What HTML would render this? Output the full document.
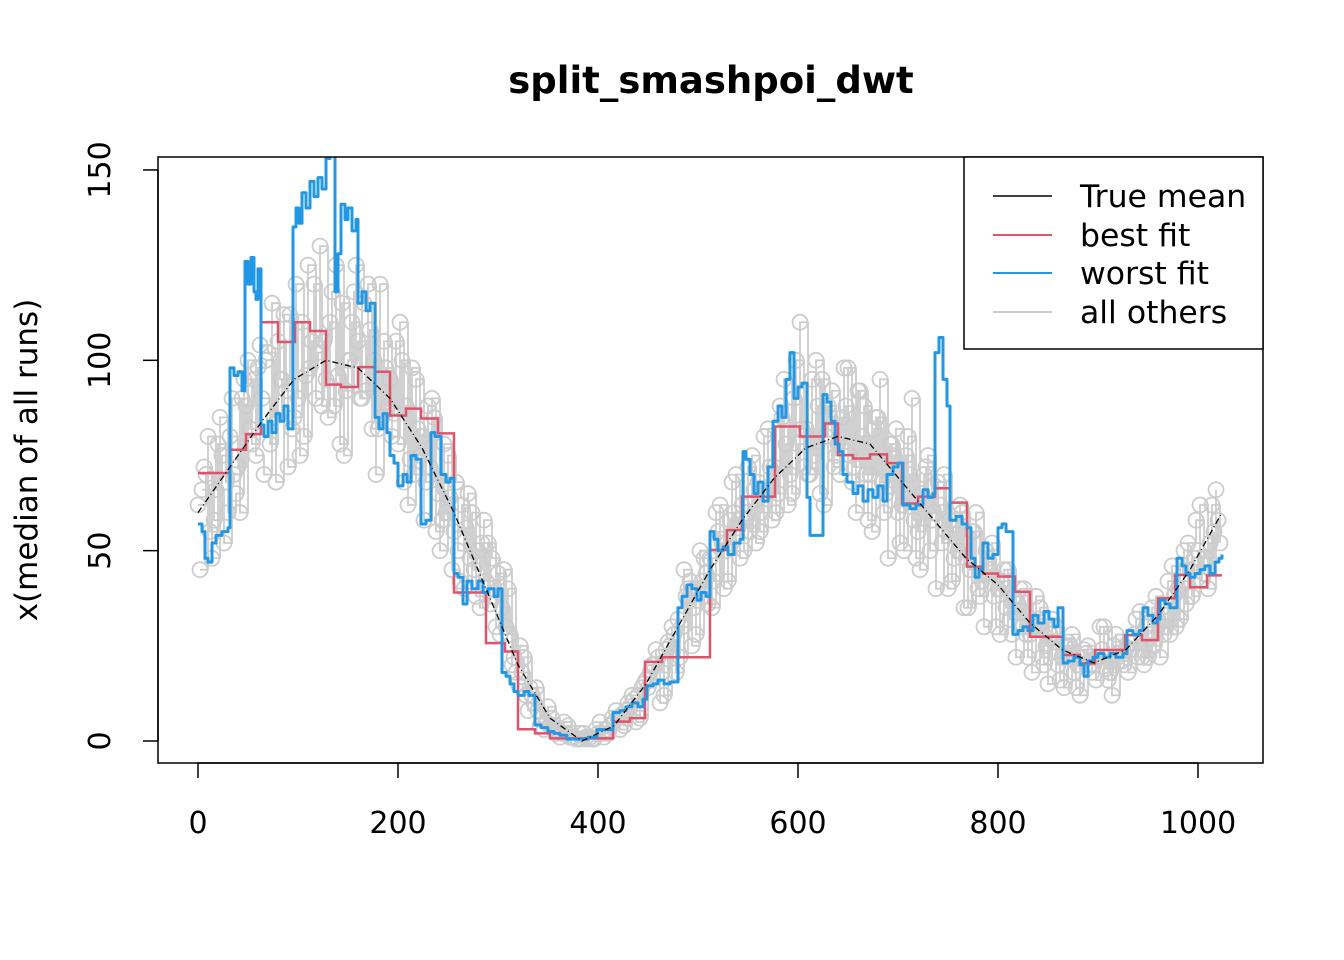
<!DOCTYPE html>
<html><head><meta charset="utf-8">
<style>
html,body{margin:0;padding:0;background:#fff;}
svg{display:block;font-family:"Liberation Sans","DejaVu Sans",sans-serif;}
</style></head>
<body>
<svg id="chart" width="1344" height="960" viewBox="0 0 1344 960" xmlns="http://www.w3.org/2000/svg">
<defs><clipPath id="plotclip"><rect x="158" y="157" width="1105" height="606"/></clipPath></defs>
<rect width="1344" height="960" fill="#fff"/>
<text x="711" y="93" text-anchor="middle" font-size="37" font-weight="bold" font-family="DejaVu Sans, sans-serif">split_smashpoi_dwt</text>
<g id="grey" clip-path="url(#plotclip)"></g>
<g id="marks" clip-path="url(#plotclip)"></g>
<rect x="158" y="157" width="1105" height="606" fill="none" stroke="#000" stroke-width="1.5"/>
<g id="axes"></g>
<text transform="translate(37,460) rotate(-90)" text-anchor="middle" font-size="31" font-family="DejaVu Sans, sans-serif">x(median of all runs)</text>
<g>
<rect x="964" y="157" width="299" height="192" fill="#fff" stroke="#000" stroke-width="1.5"/>
<line x1="993" y1="196" x2="1052" y2="196" stroke="#000" stroke-width="1.5"/>
<text x="1080" y="207" font-size="31.5" font-family="DejaVu Sans, sans-serif">True mean</text>
<line x1="993" y1="235" x2="1052" y2="235" stroke="#DF536B" stroke-width="2"/>
<text x="1080" y="246" font-size="31.5" font-family="DejaVu Sans, sans-serif">best fit</text>
<line x1="993" y1="273" x2="1052" y2="273" stroke="#2297E6" stroke-width="2"/>
<text x="1080" y="284" font-size="31.5" font-family="DejaVu Sans, sans-serif">worst fit</text>
<line x1="993" y1="312" x2="1052" y2="312" stroke="#cccccc" stroke-width="2"/>
<text x="1080" y="323" font-size="31.5" font-family="DejaVu Sans, sans-serif">all others</text>
</g>
</svg>
<script>
const xTicks = [0,200,400,600,800,1000];
const yTicks = [0,50,100,150];
const meanX = [0,32,64,96,128,160,192,224,256,288,320,352,384,416,448,480,512,544,576,608,640,672,704,736,768,800,832,864,896,928,960,992,1024];
const meanY = [60,72,84,95,100,98,90,77,60,40,20,6,0,4,15,30,45,58,69,77,80,78,68,58,48,41,31,24,20.5,24,33,45,60];
const redX = [0,32,48,63,80,97,112,128,143,160,177,192,208,223,240,256,288,307,320,337,352,415,432,447,464,512,529,544,577,602,627,640,655,672,689,704,720,737,752,769,785,800,817,832,865,882,897,927,944,960,977,992,1009,1024];
const redY = [70.4,76.5,80.6,110,104.8,110,107.7,93.6,93,98.2,97,85.5,87.3,84.7,80.8,39,25.7,23.5,3.1,2.0,0.7,5.1,6,20.8,22,50.2,55.4,64.2,82.6,80,83.4,75.1,74.2,75.3,73,62.4,64.2,66.4,62.6,45.8,44,43.2,39.2,27.4,22.6,20.4,23.9,27.8,26.5,37.5,43.6,40.4,43.5];
const blueX = [0,4,7,10,14,18,24,30,32,36,40,44,47,50,53,56,58,60,63,66,70,74,78,82,86,90,95,98,101,104,108,112,116,120,124,128,132,137,140,143,147,150,154,158,160,164,168,172,177,181,185,189,192,196,200,205,209,213,218,223,228,233,237,243,248,252,256,260,265,269,274,280,285,290,296,300,304,308,312,316,320,326,331,337,343,350,356,362,369,380,390,399,406,415,422,428,434,440,445,449,455,460,466,472,480,484,489,494,499,503,508,512,516,520,525,530,536,542,545,548,552,556,560,565,570,575,580,584,588,592,596,600,604,609,612,618,625,629,633,637,641,645,649,655,660,665,670,675,680,685,689,695,700,705,712,718,725,730,735,737,741,745,749,752,758,764,769,773,777,781,785,790,795,800,804,808,815,820,825,830,835,840,846,851,856,860,865,870,876,882,886,890,895,900,906,912,918,925,929,935,941,945,950,955,959,962,967,972,979,984,988,992,997,1002,1007,1012,1017,1021,1024];
const blueY = [57,55,48,47,52,54,55,56,98,96,97,92,126,120,127,118,116,124,83,80,84,81,86,84,88,82,135,140,136,144,140,147,143,148,145,153,156,118,128,141,137,140,134,137,115,118,113,115,85,82,86,81,75,73,67,70,68,75,74,57,58,81,80,70,68,69,44,43,36,42,40,42,39,40,38,40,18,17,15,13,12,13,12,4.2,3.5,2.5,2,1.5,0.5,0.5,1,3,3,7.5,8,9,10,9,11,14.5,15,16,15,15.5,35,38,41,40,37,39,38,55,53,50,51,49,52,53,76,74,70,65,68,63,72,84,88,85,95,102,90,93,94,64,54,54,91,89,84,78,76,70,68,65,67,63,66,64,67,63,70,72,73,62,61,62,66,64,65,102,106,95,88,58,59,57,56,48,43,45,52,48,49,56,57,55,28,29,30,29,33,31,34,32,30,35,20.5,21,22,20,17,21,22,23,22,23,22,23,29,28,29,35,33,31,32,37,36,35,48,46,44,43,44,45,46,44,47,48,49];
const greyAY = [62,70,58,75,80,72,88,95,90,78,105,92,85,110,98,102,95,88,115,100,105,92,100,85,95,78,88,70,80,72,65,60,55,62,48,50,42,38,35,28,15,12,10,6,4,3,2,1,0.5,1,2,3,5,7,9,12,16,20,18,25,32,38,35,42,48,55,50,60,62,55,68,65,72,85,70,78,82,75,95,85,78,88,72,80,70,85,65,75,62,70,55,72,60,52,58,50,48,55,42,45,40,35,38,30,28,32,25,26,22,25,20,23,20,24,18,22,24,28,22,27,32,30,38,42,45,50,48,55];
const greyBY = [66,55,78,68,70,90,82,98,100,85,95,112,90,96,120,88,110,96,92,118,90,108,82,98,86,100,74,82,68,85,58,64,50,56,45,52,36,44,30,22,18,14,8,5,3,2,1,0.5,1,0.5,2,4,6,8,11,14,18,22,24,28,30,42,40,44,42,52,58,56,58,66,60,72,65,78,90,82,70,88,80,72,85,75,92,70,82,68,78,60,75,58,65,50,68,55,48,60,45,40,50,38,42,32,36,28,30,22,28,20,25,18,22,20,22,19,25,21,26,22,30,25,35,28,40,36,48,42,52,58];
const greyCY = [45,80,66,52,90,60,100,75,70,115,95,72,120,80,105,130,85,125,75,110,90,120,70,105,80,110,62,95,58,90,50,75,68,40,60,35,52,30,45,20,25,8,14,3,6,1,4,0.5,2,0.5,5,2,8,4,12,6,14,24,12,30,22,40,28,48,35,62,42,70,50,75,55,82,60,95,65,110,70,100,62,92,70,98,60,88,55,95,48,82,50,90,45,75,40,70,42,62,35,60,30,52,28,45,22,40,18,35,15,30,14,28,12,25,16,30,12,26,18,32,20,35,22,42,30,50,38,62,40,66];
const greyDY = [72,48,85,60,65,95,78,104,102,68,112,82,75,125,90,105,118,78,100,125,115,82,120,88,105,68,98,75,88,55,78,45,42,65,38,58,48,28,40,18,22,12,4,9,2,5,1,2,0.5,3,1,6,3,10,5,15,20,10,26,18,45,25,50,36,60,40,68,48,72,52,80,58,88,62,100,72,95,65,88,75,98,68,92,58,85,60,78,52,80,48,70,58,62,40,58,35,55,38,48,30,45,28,40,22,38,20,32,16,26,14,24,18,30,16,28,20,24,34,22,38,28,46,32,52,58,44,62,52];
const greyOffsets = [0,4,2,6];

const NS = 'http://www.w3.org/2000/svg';
function sx(x){ return 198 + x; }
function sy(y){ return 741 - y * 3.807; }
function stepPath(xs, ys, endX){
  let d = 'M' + sx(xs[0]) + ' ' + sy(ys[0]);
  for (let i = 1; i < ys.length; i++) d += ' H' + sx(xs[i]) + ' V' + sy(ys[i]);
  d += ' H' + sx(endX !== undefined ? endX : xs[xs.length - 1]);
  return d;
}
function linePath(xs, ys){
  let d = '';
  for (let i = 0; i < xs.length; i++) d += (i ? ' L' : 'M') + sx(xs[i]) + ' ' + sy(ys[i]);
  return d;
}
const grey = document.getElementById('grey');
const marks = document.getElementById('marks');
const axes = document.getElementById('axes');

[greyAY, greyBY, greyCY, greyDY].forEach(function(ys, r){
  const xs = ys.map(function(_, i){ return greyOffsets[r] + 8 * i; });
  const p = document.createElementNS(NS, 'path');
  p.setAttribute('d', stepPath(xs, ys));
  p.setAttribute('fill', 'none');
  p.setAttribute('stroke', '#cccccc');
  p.setAttribute('stroke-width', '1.8');
  
  
  grey.appendChild(p);
  for (let i = 0; i < xs.length; i++) {
    const c = document.createElementNS(NS, 'circle');
    c.setAttribute('cx', sx(xs[i]));
    c.setAttribute('cy', sy(ys[i]));
    c.setAttribute('r', '7.5');
    c.setAttribute('fill', 'none');
    c.setAttribute('stroke', '#cccccc');
    c.setAttribute('stroke-width', '1.8');
    
    
    grey.appendChild(c);
  }
});

const red = document.createElementNS(NS, 'path');
red.setAttribute('d', stepPath(redX.slice(0, redY.length), redY, redX[redX.length - 1]));
red.setAttribute('fill', 'none');
red.setAttribute('stroke', '#DF536B');
red.setAttribute('stroke-width', '2.5');


marks.appendChild(red);

const blue = document.createElementNS(NS, 'path');
blue.setAttribute('d', stepPath(blueX, blueY));
blue.setAttribute('fill', 'none');
blue.setAttribute('stroke', '#2297E6');
blue.setAttribute('stroke-width', '3');
blue.setAttribute('stroke-linejoin', 'round');


marks.appendChild(blue);

const mean = document.createElementNS(NS, 'path');
mean.setAttribute('d', linePath(meanX, meanY));
mean.setAttribute('fill', 'none');
mean.setAttribute('stroke', '#000');
mean.setAttribute('stroke-width', '1.3');
mean.setAttribute('stroke-dasharray', '6 3 1 3');


marks.appendChild(mean);

const xa = document.createElementNS(NS, 'line');
xa.setAttribute('x1', sx(xTicks[0])); xa.setAttribute('x2', sx(xTicks[xTicks.length-1]));
xa.setAttribute('y1', 763); xa.setAttribute('y2', 763);
xa.setAttribute('stroke', '#000'); xa.setAttribute('stroke-width', '1.5');


axes.appendChild(xa);
xTicks.forEach(function(t){
  const l = document.createElementNS(NS, 'line');
  l.setAttribute('x1', sx(t)); l.setAttribute('x2', sx(t));
  l.setAttribute('y1', 763); l.setAttribute('y2', 778);
  l.setAttribute('stroke', '#000'); l.setAttribute('stroke-width', '1.5');
  
  
  axes.appendChild(l);
  const tx = document.createElementNS(NS, 'text');
  tx.setAttribute('x', sx(t)); tx.setAttribute('y', 833);
  tx.setAttribute('text-anchor', 'middle'); tx.setAttribute('font-size', '30');
  tx.setAttribute('font-family', 'DejaVu Sans, sans-serif');
  tx.textContent = t;
  
  
  axes.appendChild(tx);
});
const ya = document.createElementNS(NS, 'line');
ya.setAttribute('x1', 158); ya.setAttribute('x2', 158);
ya.setAttribute('y1', sy(yTicks[0])); ya.setAttribute('y2', sy(yTicks[yTicks.length-1]));
ya.setAttribute('stroke', '#000'); ya.setAttribute('stroke-width', '1.5');


axes.appendChild(ya);
yTicks.forEach(function(t){
  const l = document.createElementNS(NS, 'line');
  l.setAttribute('x1', 143); l.setAttribute('x2', 158);
  l.setAttribute('y1', sy(t)); l.setAttribute('y2', sy(t));
  l.setAttribute('stroke', '#000'); l.setAttribute('stroke-width', '1.5');
  
  
  axes.appendChild(l);
  const tx = document.createElementNS(NS, 'text');
  tx.setAttribute('transform', 'translate(110,' + sy(t) + ') rotate(-90)');
  tx.setAttribute('text-anchor', 'middle'); tx.setAttribute('font-size', '30');
  tx.setAttribute('font-family', 'DejaVu Sans, sans-serif');
  tx.textContent = t;
  
  
  axes.appendChild(tx);
});
</script>
</body></html>
